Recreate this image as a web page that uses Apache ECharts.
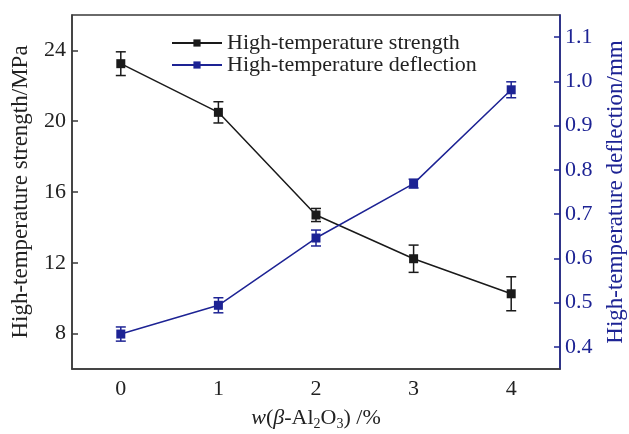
<!DOCTYPE html>
<html>
<head>
<meta charset="utf-8">
<script src="https://cdn.jsdelivr.net/npm/echarts@6/dist/echarts.min.js"></script>
<style>
  html, body { margin: 0; padding: 0; background: #fff; }
  #chart { width: 629px; height: 434px; }
</style>
</head>
<body>
<div id="chart"></div>
<script>
// w(beta-Al2O3) content, %
const categories = ['0', '1', '2', '3', '4']
const strength = [23.25, 20.5, 14.7, 12.23, 10.25]
const strengthErr = [0.67, 0.6, 0.37, 0.77, 0.96]
const deflection = [0.429, 0.494, 0.646, 0.769, 0.981]
const deflectionErr = [0.016, 0.017, 0.018, 0.01, 0.018]
const leftTicks = [8, 12, 16, 20, 24]
const rightTicks = [0.4, 0.5, 0.6, 0.7, 0.8, 0.9, 1.0, 1.1]

const dark = '#1a1a1a'
const blue = '#1d2394'
const font = 'Liberation Serif'

function errorBars(values, errs, axisIndex, color) {
  return {
    type: 'custom',
    yAxisIndex: axisIndex,
    z: 1,
    silent: true,
    data: values.map((v, i) => [i, v - errs[i], v + errs[i]]),
    renderItem: function (params, api) {
      const lo = api.coord([api.value(0), api.value(1)])
      const hi = api.coord([api.value(0), api.value(2)])
      const w = 5
      const style = { stroke: color, lineWidth: 1.5 }
      return {
        type: 'group',
        children: [
          { type: 'line', shape: { x1: lo[0], y1: lo[1], x2: hi[0], y2: hi[1] }, style: style },
          { type: 'line', shape: { x1: lo[0] - w, y1: lo[1], x2: lo[0] + w, y2: lo[1] }, style: style },
          { type: 'line', shape: { x1: hi[0] - w, y1: hi[1], x2: hi[0] + w, y2: hi[1] }, style: style }
        ]
      }
    }
  }
}

const chart = echarts.init(document.getElementById('chart'))
chart.setOption({
  animation: false,
  backgroundColor: '#fff',
  textStyle: { fontFamily: font },
  grid: {
    left: 72, right: 69, top: 15, bottom: 65,
    outerBoundsMode: 'none',
    containLabel: false,
    show: true, borderColor: '#3a3a3a', borderWidth: 1.5
  },
  legend: {
    orient: 'vertical',
    left: 166,
    top: 27,
    itemWidth: 50,
    itemHeight: 9,
    itemGap: 0,
    data: ['High-temperature strength', 'High-temperature deflection'],
    textStyle: { fontFamily: font, fontSize: 22, lineHeight: 21, color: '#222' }
  },
  xAxis: {
    type: 'category',
    data: categories,
    boundaryGap: true,
    axisLine: { lineStyle: { color: '#3a3a3a', width: 1.5 } },
    axisTick: { inside: true, alignWithLabel: true, length: 6, lineStyle: { color: '#3a3a3a', width: 1.5 } },
    axisLabel: { margin: 9, fontSize: 22, color: '#222', fontFamily: font },
    name: '{i|w}({i|β}-Al{s|2}O{s|3}) /%',
    nameLocation: 'middle',
    nameGap: 36,
    nameTextStyle: {
      fontFamily: font, fontSize: 22, color: '#222',
      rich: {
        i: { fontFamily: font, fontSize: 22, fontStyle: 'italic', color: '#222' },
        s: { fontFamily: font, fontSize: 14, color: '#222', verticalAlign: 'bottom', padding: [12, 0, 0, 0] }
      }
    }
  },
  yAxis: [
    {
      type: 'value',
      min: 6,
      max: 26,
      position: 'left',
      splitLine: { show: false },
      axisLine: { show: true, lineStyle: { color: '#3a3a3a', width: 1.5 } },
      axisTick: { show: true, inside: true, length: 6, customValues: leftTicks, lineStyle: { color: '#3a3a3a', width: 1.5 } },
      axisLabel: { customValues: leftTicks, margin: 6, fontSize: 22, color: '#222', fontFamily: font },
      name: 'High-temperature strength/MPa',
      nameLocation: 'middle',
      nameRotate: 90,
      nameGap: 40,
      nameTextStyle: { fontFamily: font, fontSize: 23, color: '#222' }
    },
    {
      type: 'value',
      min: 0.35,
      max: 1.15,
      position: 'right',
      splitLine: { show: false },
      axisLine: { show: true, lineStyle: { color: blue, width: 1.5 } },
      axisTick: { show: true, inside: true, length: 6, customValues: rightTicks, lineStyle: { color: blue, width: 1.5 } },
      axisLabel: {
        customValues: rightTicks, margin: 5, fontSize: 22, color: blue, fontFamily: font,
        formatter: v => v.toFixed(1)
      },
      name: 'High-temperature deflection/mm',
      nameLocation: 'middle',
      nameRotate: 90,
      nameGap: 44,
      nameTextStyle: { fontFamily: font, fontSize: 23, color: blue }
    }
  ],
  series: [
    errorBars(strength, strengthErr, 0, dark),
    errorBars(deflection, deflectionErr, 1, blue),
    {
      name: 'High-temperature strength',
      type: 'line',
      yAxisIndex: 0,
      data: strength,
      symbol: 'rect',
      symbolSize: 9,
      z: 3,
      itemStyle: { color: dark },
      lineStyle: { color: dark, width: 1.5 }
    },
    {
      name: 'High-temperature deflection',
      type: 'line',
      yAxisIndex: 1,
      data: deflection,
      symbol: 'rect',
      symbolSize: 9,
      z: 3,
      itemStyle: { color: blue },
      lineStyle: { color: blue, width: 1.5 }
    }
  ]
})
</script>
</body>
</html>
